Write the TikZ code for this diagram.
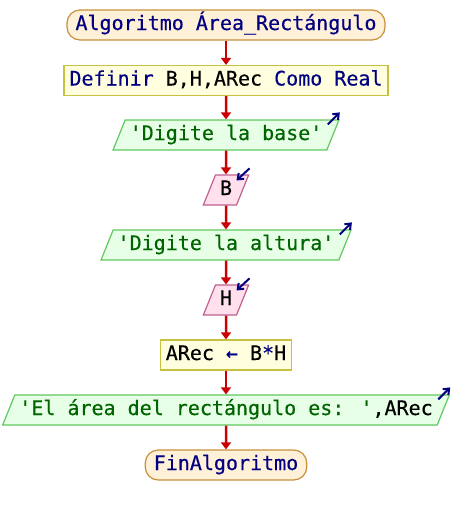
\documentclass[tikz,border=0pt]{standalone}
\usepackage{fontspec}
\newfontfamily\psmono[FakeBold=0.4]{DejaVu Sans Mono}
\usetikzlibrary{shapes.geometric,arrows.meta}
\definecolor{kwblue}{HTML}{000080}
\definecolor{strgreen}{HTML}{006400}
\definecolor{flowred}{HTML}{CC0000}
\definecolor{termfill}{HTML}{FFF0D8}
\definecolor{termline}{HTML}{C8903C}
\definecolor{procfill}{HTML}{FFFFE0}
\definecolor{procline}{HTML}{C8C040}
\definecolor{outfill}{HTML}{E6FFE6}
\definecolor{outline}{HTML}{60C860}
\definecolor{infill}{HTML}{FFE0EC}
\definecolor{inline}{HTML}{C06090}
\newcommand{\kw}[1]{\textcolor{kwblue}{#1}}
\newcommand{\str}[1]{\textcolor{strgreen}{#1}}
\tikzset{%
    psbox/.style={%
        font=\psmono\fontsize{20}{22}\selectfont,
        text height=15pt, text depth=5pt, inner ysep=5pt, line width=1.2pt
    },
    terminal/.style={psbox, draw=termline, fill=termfill, rounded corners=13pt, inner xsep=8.5pt},
    process/.style={psbox, draw=procline, fill=procfill, inner xsep=5.5pt},
    slanted/.style={psbox, trapezium, trapezium left angle=68, trapezium right angle=112,
        trapezium stretches body=true, inner xsep=4.5pt},
    output/.style={slanted, draw=outline, fill=outfill},
    input/.style={slanted, draw=inline, fill=infill},
    flow/.style={flowred, line width=2.5pt, -{Triangle[width=10pt,length=7pt]}},
    iomark/.style={kwblue, line width=2pt, -{Straight Barb[length=5pt,width=8pt]}}
}

\begin{document}
\begin{tikzpicture}[x=1pt,y=-1pt]
    \useasboundingbox (0,0) rectangle (452,515);
    \node[terminal] (alg) at (226,25) {\kw{Algoritmo Área\_Rectángulo}};
    \node[process] (defs) at (226,80.5) {\kw{Definir} B,H,ARec \kw{Como Real}};
    \node[output] (askb) at (226,135) {\str{'Digite la base'}};
    \node[input] (readb) at (226,190) {B};
    \node[output] (askh) at (226,245) {\str{'Digite la altura'}};
    \node[input] (readh) at (226,300) {H};
    \node[process] (calc) at (226,355) {ARec \kw{←} B\kw{*}H};
    \node[output] (show) at (226,410) {\str{'El área del rectángulo es: '},ARec};
    \node[terminal] (fin) at (226,465) {\kw{FinAlgoritmo}};

    \draw[flow] (alg)--(defs);
    \draw[flow] (defs)--(askb);
    \draw[flow] (askb)--(readb);
    \draw[flow] (readb)--(askh);
    \draw[flow] (askh)--(readh);
    \draw[flow] (readh)--(calc);
    \draw[flow] (calc)--(show);
    \draw[flow] (show)--(fin);

    % write and read marks
    \draw[iomark] ([shift={(-12pt,-5pt)}]askb.top right corner) -- ++(12pt,12pt);
    \draw[iomark] ([shift={(-12pt,-5pt)}]askh.top right corner) -- ++(12pt,12pt);
    \draw[iomark] ([shift={(-12pt,-5pt)}]show.top right corner) -- ++(12pt,12pt);
    \draw[iomark] ([shift={(0pt,6pt)}]readb.top right corner) -- ++(-13pt,-12pt);
    \draw[iomark] ([shift={(0pt,6pt)}]readh.top right corner) -- ++(-13pt,-12pt);
\end{tikzpicture}
\end{document}
